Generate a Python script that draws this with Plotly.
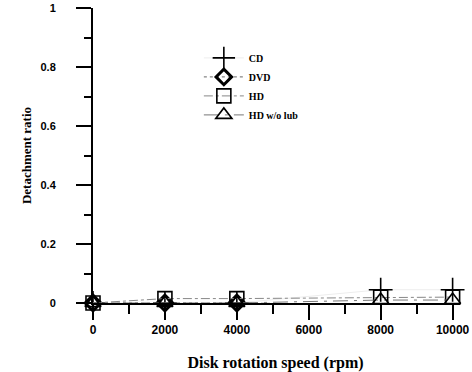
import plotly.graph_objects as go

speed = [0, 2000, 4000, 8000, 10000]
cd = [0.0, 0.0, 0.0, 0.045, 0.045]
dvd = [0.0, 0.0, 0.0, -0.005, -0.005]
hd = [0.0, 0.015, 0.015, 0.02, 0.02]
hd_nolub = [0.0, 0.0, 0.0, 0.01, 0.01]

xticks = [0, 2000, 4000, 6000, 8000, 10000]
yticks = [0, 0.2, 0.4, 0.6, 0.8, 1]
ylabels = ["0", "0.2", "0.4", "0.6", "0.8", "1"]

serif = "Liberation Serif"
sans = "Liberation Sans"

fig = go.Figure()
fig.add_trace(go.Scatter(x=speed, y=cd, name="CD", mode="markers+lines",
                         line=dict(color="rgba(0,0,0,0.15)", width=0.5),
                         marker=dict(symbol="cross-thin-open", size=17, color="black",
                                     line=dict(color="black", width=1.6)),
                         cliponaxis=False))
fig.add_trace(go.Scatter(x=speed, y=dvd, name="DVD", mode="markers+lines",
                         line=dict(color="#666", width=1, dash="dot"),
                         marker=dict(symbol="diamond-open", size=12, color="black",
                                     line=dict(color="black", width=3)),
                         cliponaxis=False))
fig.add_trace(go.Scatter(x=speed, y=hd, name="HD", mode="markers+lines",
                         line=dict(color="#888", width=1, dash="dashdot"),
                         marker=dict(symbol="square-open", size=14, color="black",
                                     line=dict(color="black", width=1.6)),
                         cliponaxis=False))
fig.add_trace(go.Scatter(x=speed, y=hd_nolub, name="HD w/o lub", mode="markers+lines",
                         line=dict(color="#777", width=1, dash="longdashdot"),
                         marker=dict(symbol="triangle-up-open", size=14, color="black",
                                     line=dict(color="black", width=1.6)),
                         cliponaxis=False))

fig.update_layout(
    width=472, height=372,
    margin=dict(l=93, r=14, t=8, b=69, autoexpand=False),
    paper_bgcolor="white", plot_bgcolor="white",
    showlegend=True,
    legend=dict(x=0.29, y=0.88, xanchor="left", yanchor="top",
                font=dict(family=serif, size=10, color="black", weight="bold"),
                bgcolor="rgba(0,0,0,0)", itemwidth=40, tracegroupgap=0),
    xaxis=dict(range=[0, 10150], tickvals=xticks, ticktext=[str(v) for v in xticks],
               automargin=True,
               showgrid=False, zeroline=False, showline=True, linecolor="black", linewidth=2,
               ticks="outside", ticklen=15, tickwidth=2, tickcolor="black",
               ticklabeloverflow="allow",
               minor=dict(dtick=1000, ticks="outside", ticklen=9, tickwidth=2, tickcolor="black"),
               tickfont=dict(family=sans, size=12, color="black", weight="bold"),
               title=dict(text="Disk rotation speed (rpm)", standoff=20,
                          font=dict(family=serif, size=16, color="black", weight="bold"))),
    yaxis=dict(range=[0, 1], tickvals=yticks, ticktext=ylabels,
               automargin=True,
               showgrid=False, zeroline=False, showline=True, linecolor="black", linewidth=2,
               ticks="outside", ticklen=15, tickwidth=2, tickcolor="black",
               minor=dict(dtick=0.1, ticks="outside", ticklen=7, tickwidth=2, tickcolor="black"),
               tickfont=dict(family=sans, size=11, color="black", weight="bold"),
               ticklabelstandoff=18,
               title=dict(text="Detachment ratio", standoff=6,
                          font=dict(family=serif, size=13, color="black", weight="bold"))),
)

fig.write_html("out.html")
